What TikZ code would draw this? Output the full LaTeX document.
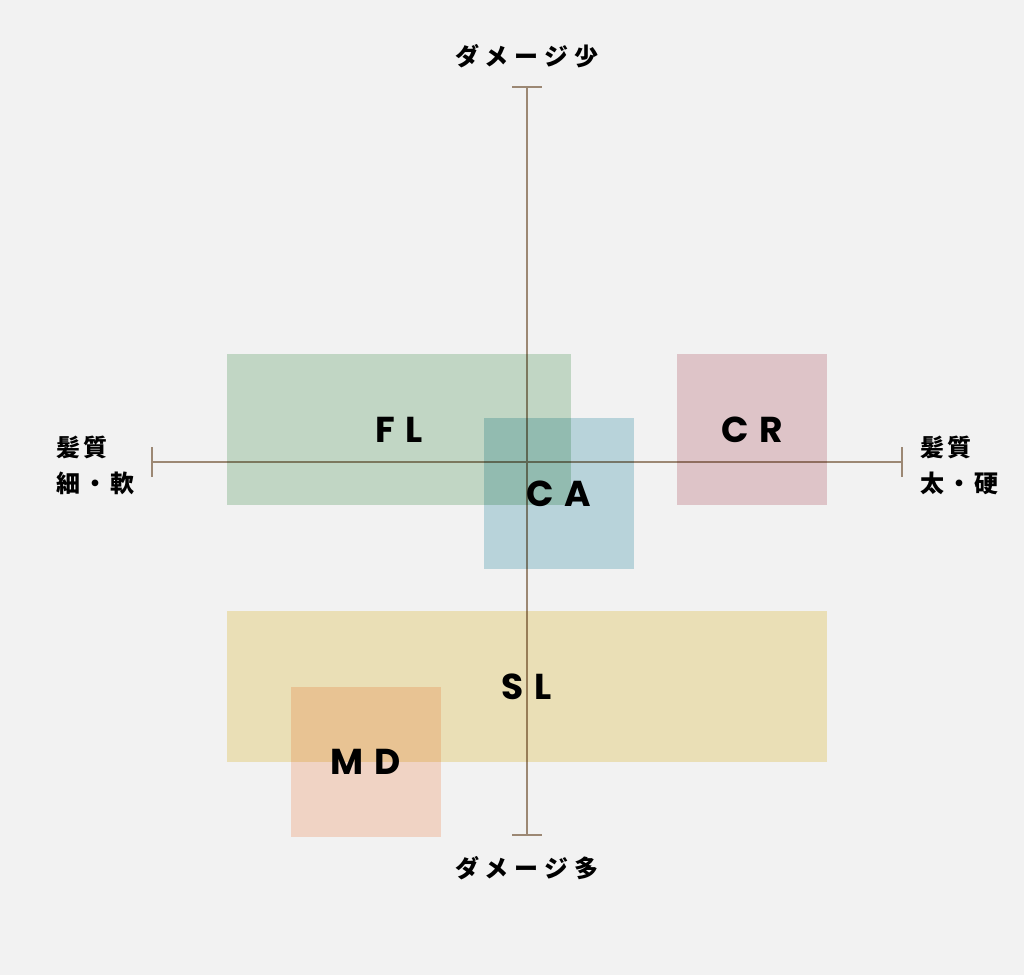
\documentclass[tikz,border=0pt]{standalone}
\usepackage{fontspec}
\usetikzlibrary{arrows.meta}
\newfontfamily\tagfont[LetterSpace=30]{Poppins}
\newfontfamily\jpfont[LetterSpace=25]{Noto Sans CJK JP}
\newfontfamily\jpsidefont[LetterSpace=12]{Noto Sans CJK JP}
\definecolor{bgcolor}{RGB}{242,242,242}
\definecolor{axiscolor}{RGB}{156,136,116}
\definecolor{flgreen}{RGB}{204,226,207}
\definecolor{cablue}{RGB}{194,223,230}
\definecolor{crpink}{RGB}{234,207,211}
\definecolor{slyellow}{RGB}{247,236,192}
\definecolor{mdpeach}{RGB}{253,223,207}
\tikzset{
    box/.style ={
        rectangle,
        minimum width =112.5pt,
        minimum height =113pt,
        inner sep=0pt,
        blend mode=multiply,
        font=\tagfont\bfseries\fontsize{27}{27}\selectfont
    },
    axis/.style ={
        draw=axiscolor,
        line width=1.6pt,
        {Bar[width=22pt]}-{Bar[width=22pt]}
    },
    axislabel/.style ={
        font=\jpfont\bfseries\fontsize{18}{18}\selectfont
    },
    sidelabel/.style ={
        align=left,
        inner sep=0pt,
        font=\jpsidefont\bfseries\fontsize{18}{27}\selectfont
    }
}

\begin{document}
\begin{tikzpicture}[x=0.75pt,y=-0.75pt]
        \fill[bgcolor] (0,0) rectangle (1024,975);
        \coordinate (TOP) at (527,86);
        \coordinate (BOTTOM) at (527,836);
        \coordinate (LEFT) at (151,462);
        \coordinate (RIGHT) at (903,462);
        \draw[axis] (TOP)--(BOTTOM);
        \draw[axis] (LEFT)--(RIGHT);
        \node[box, fill=flgreen, minimum width=258pt] (FL) at(399,429.5) {FL};
        \node[box, fill=cablue] (CA) at(559,493.5) {CA};
        \node[box, fill=crpink] (CR) at(752,429.5) {CR};
        \node[box, fill=slyellow, minimum width=450pt] (SL) at(527,686.5) {SL};
        \node[box, fill=mdpeach] (MD) at(366,762) {MD};
        \node[axislabel] (LESS) at(527,56) {ダメージ少};
        \node[axislabel] (MORE) at(527,868) {ダメージ多};
        \node[sidelabel, anchor=west] (THIN) at(56,465) {髪質\\細・軟};
        \node[sidelabel, anchor=west] (THICK) at(920,465) {髪質\\太・硬};
    \end{tikzpicture}
\end{document}
